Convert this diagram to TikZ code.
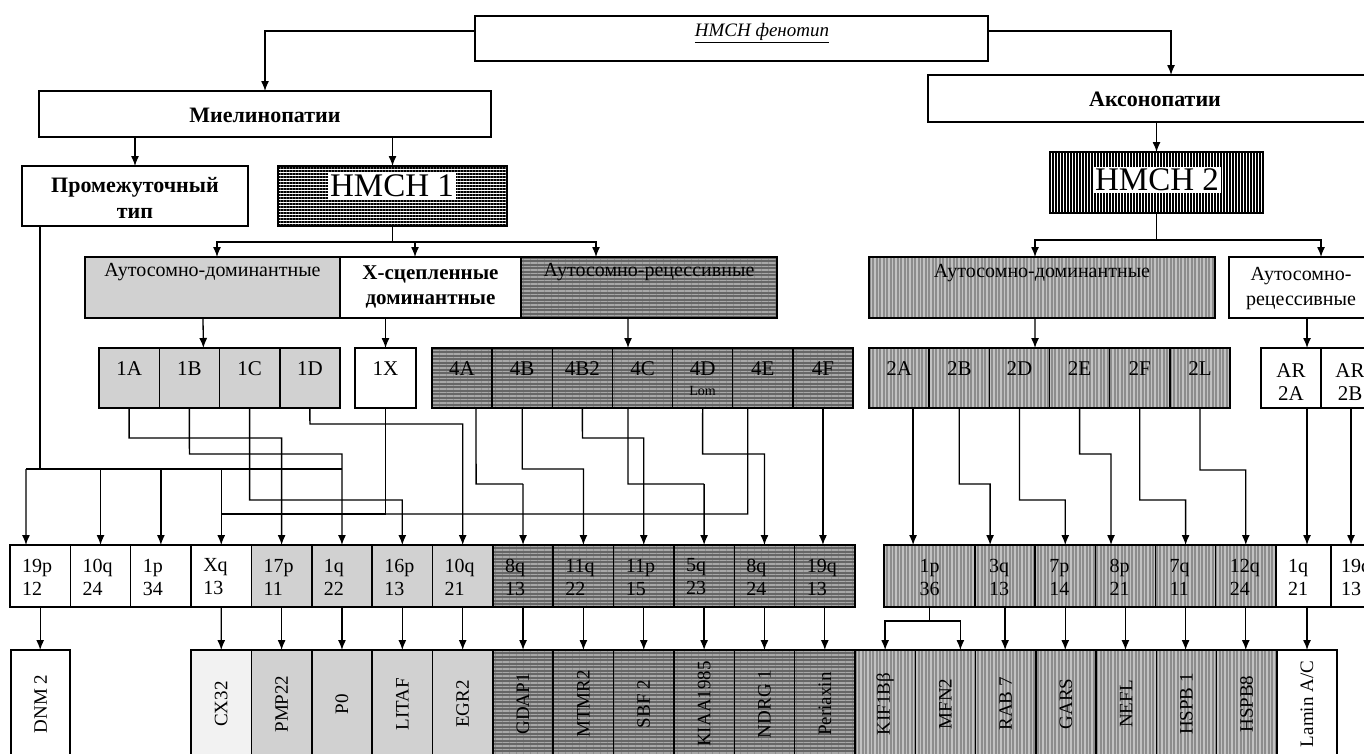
\documentclass[tikz,border=0pt]{standalone}
\usepackage{fontspec}
\setmainfont{Liberation Serif}
\usetikzlibrary{arrows.meta,patterns.meta}
\definecolor{lg}{gray}{0.82}
\definecolor{dg}{gray}{0.40}
\definecolor{dgl}{gray}{0.66}
\definecolor{mg}{gray}{0.55}
\definecolor{mgl}{gray}{0.76}
\definecolor{cxg}{gray}{0.95}
\newcommand\mybox[6]{\node[#2, minimum width={(#5)-(#3)}, minimum height={(#6)-(#4)}] (#1) at ({((#3)+(#5))/2},{((#4)+(#6))/2}) {};}
\tikzset{
 bx/.style={draw, line width=1.5pt, inner sep=0pt, outer sep=0pt},
 wht/.style={bx, fill=white},
 cxs/.style={bx, fill=cxg},
 lgs/.style={bx, fill=lg},
 dhs/.style={bx, preaction={fill=dg}, pattern={Lines[angle=0,distance=3.5pt,line width=1.2pt]}, pattern color=dgl},
 mvs/.style={bx, preaction={fill=mg}, pattern={Lines[angle=90,distance=3.5pt,line width=1.1pt]}, pattern color=mgl},
 h1s/.style={bx, preaction={fill=white}, pattern={Lines[angle=0,distance=3pt,line width=1.2pt]}, pattern color=black},
 h2s/.style={bx, preaction={fill=white}, pattern={Lines[angle=90,distance=3pt,line width=1.2pt]}, pattern color=black},
 ln/.style={line width=1.3pt},
 conn/.style={line width=1.3pt, -{Latex[length=10pt,width=8pt]}},
 lab/.style={font=\fontsize{20}{23}\selectfont, align=center, inner sep=0pt},
 clab/.style={font=\fontsize{21}{23}\selectfont, align=center, inner sep=0pt},
 chlab/.style={font=\fontsize{20}{23}\selectfont, align=left, anchor=west, inner sep=0pt},
 head/.style={font=\fontsize{22}{26}\selectfont\bfseries, align=center, inner sep=0pt},
 htext/.style={font=\fontsize{33}{36}\selectfont, fill=white, inner sep=2pt},
 glab/.style={font=\fontsize{19}{22}\selectfont, rotate=90, inner sep=0pt}
}
\begin{document}
\begin{tikzpicture}[x=1pt,y=-1pt]
\useasboundingbox (0,0) rectangle (1364,753);
\clip (0,0) rectangle (1364,753);
\fill[white] (0,0) rectangle (1364,753);

% ---------- top levels
\mybox{top}{wht}{475}{16}{988}{61}
\node[font=\fontsize{19}{22}\selectfont\itshape, inner sep=0pt] (ttop) at (762,33) {\underline{HMCH фенотип}};
\mybox{myel}{wht}{39}{91}{491}{137}
\node[head] (tmyel) at (265,115) {Миелинопатии};
\mybox{axon}{wht}{928}{75}{1382}{122}
\node[head] (taxon) at (1155,99) {Аксонопатии};
\mybox{inter}{wht}{22}{166}{248}{226}
\node[head] (tinter) at (135,198) {Промежуточный\\тип};
\mybox{h1}{h1s}{278}{166}{507}{226}
\node[htext] (th1) at (392,186) {HMCH 1};
\mybox{h2}{h2s}{1050}{152}{1263}{213}
\node[htext] (th2) at (1157,180) {HMCH 2};

\draw[conn] ([yshift=7.5pt]top.west) -| (myel.north);
\draw[conn] ([yshift=7.5pt]top.east) -| ([xshift=16pt]axon.north);
\draw[conn] (myel.south -| inter.north) -- (inter.north);
\draw[conn] (myel.south -| h1.north) -- (h1.north);
\draw[conn] (axon.south -| h2.north) -- (h2.north);

% ---------- second row
\mybox{ad1}{lgs}{85}{257}{340}{318}
\node[lab] (tad1) at (212.5,272) {Аутосомно-доминантные};
\mybox{xl}{wht}{340}{257}{521}{318}
\node[head, font=\fontsize{21}{25}\selectfont\bfseries] (txl) at (430.5,287) {X-сцепленные\\доминантные};
\mybox{ar1}{dhs}{521}{257}{777}{318}
\node[lab] (tar1) at (649,272) {Аутосомно-рецессивные};
\mybox{ad2}{mvs}{869}{257}{1215}{318}
\node[lab] (tad2) at (1042,273) {Аутосомно-доминантные};
\mybox{ar2}{wht}{1229}{257}{1380}{318}
\node[lab, font=\fontsize{20}{25}\selectfont] (tar2) at (1301,289) {Аутосомно-\\рецессивные};

\coordinate (j1) at (392.5,242);
\draw[ln] (h1.south) -- (j1);
\draw[conn] (j1) -| ([xshift=4.5pt]ad1.north);
\draw[conn] (j1) -| ([xshift=-15.5pt]xl.north);
\draw[conn] (j1) -| ([xshift=-53pt]ar1.north);
\coordinate (j2) at (1156.5,240);
\draw[ln] (h2.south) -- (j2);
\draw[conn] (j2) -| ([xshift=-7pt]ad2.north);
\draw[conn] (j2) -| ([xshift=16.5pt]ar2.north);

% ---------- third row
\foreach \n [count=\i from 0] in {1A,1B,1C,1D} {
  \pgfmathsetmacro\xa{99+60.25*\i}\pgfmathsetmacro\xb{99+60.25*(\i+1)}
  \mybox{c\n}{lgs}{\xa}{348}{\xb}{408}
  \node[clab] (t\n) at ({(\xa+\xb)/2},369) {\n};
}
\mybox{c1X}{wht}{355}{348}{416}{408}
\node[clab] (t1X) at (385.5,369) {1X};
\foreach \n [count=\i from 0] in {4A,4B,4B2,4C,4D,4E,4F} {
  \pgfmathsetmacro\xa{432+60.143*\i}\pgfmathsetmacro\xb{432+60.143*(\i+1)}
  \mybox{c\n}{dhs}{\xa}{348}{\xb}{408}
  \node[clab] (t\n) at ({(\xa+\xb)/2},369) {\n};
}
\node[font=\fontsize{14}{16}\selectfont, inner sep=0pt] (tLom) at (702.6,391) {Lom};
\foreach \n [count=\i from 0] in {2A,2B,2D,2E,2F,2L} {
  \pgfmathsetmacro\xa{869+60.167*\i}\pgfmathsetmacro\xb{869+60.167*(\i+1)}
  \mybox{c\n}{mvs}{\xa}{348}{\xb}{408}
  \node[clab] (t\n) at ({(\xa+\xb)/2},369) {\n};
}
\mybox{cARa}{wht}{1261}{348}{1321}{408}
\node[clab] (tARa) at (1291,382) {AR\\2A};
\mybox{cARb}{wht}{1321}{348}{1381}{408}
\node[clab] (tARb) at (1350,382) {AR\\2B};

\draw[conn] ([xshift=-9.5pt]ad1.south) -- ([xshift=14pt]c1B.north);
\draw[conn] ([xshift=-45pt]xl.south) -- (c1X.north);
\draw[conn] ([xshift=-21pt]ar1.south) -- ([xshift=-14.5pt]c4C.north);
\draw[conn] ([xshift=-7pt]ad2.south) -- ([xshift=15.6pt]c2D.north);
\draw[conn] ([xshift=2.5pt]ar2.south) -- ([xshift=16pt]cARa.north);

% ---------- chromosome row
\foreach \t [count=\i from 0] in {{19p\\12},{10q\\24},{1p\\34},{Xq\\13}} {
  \pgfmathsetmacro\xa{10+60.357*\i}\pgfmathsetmacro\xb{10+60.357*(\i+1)}
  \mybox{ch\i}{wht}{\xa}{545}{\xb}{607}
  \node[chlab] (tch\i) at ({\xa+12},577) {\t};
}
\foreach \t [count=\i from 4] in {{17p\\11},{1q\\22},{16p\\13},{10q\\21}} {
  \pgfmathsetmacro\xa{10+60.357*\i}\pgfmathsetmacro\xb{10+60.357*(\i+1)}
  \mybox{ch\i}{lgs}{\xa}{545}{\xb}{607}
  \node[chlab] (tch\i) at ({\xa+12},577) {\t};
}
\foreach \t [count=\i from 8] in {{8q\\13},{11q\\22},{11p\\15},{5q\\23},{8q\\24},{19q\\13}} {
  \pgfmathsetmacro\xa{10+60.357*\i}\pgfmathsetmacro\xb{10+60.357*(\i+1)}
  \mybox{ch\i}{dhs}{\xa}{545}{\xb}{607}
  \node[chlab] (tch\i) at ({\xa+12},577) {\t};
}
\mybox{cr1}{mvs}{884}{545}{975}{607}
\node[lab, align=left] (tcr1) at (929.5,577) {1p\\36};
\foreach \t [count=\i from 2] in {{3q\\13},{7p\\14},{8p\\21},{7q\\11},{12q\\24}} {
  \pgfmathsetmacro\xa{975+60.167*(\i-2)}\pgfmathsetmacro\xb{975+60.167*(\i-1)}
  \mybox{cr\i}{mvs}{\xa}{545}{\xb}{607}
  \node[chlab] (tcr\i) at ({\xa+14},577) {\t};
}
\mybox{cr7}{wht}{1275.8}{545}{1331}{607}
\node[chlab] (tcr7) at (1288,577) {1q\\21};
\mybox{cr8}{wht}{1331}{545}{1392}{607}
\node[chlab] (tcr8) at (1341,577) {19q\\13};

% routes: intermediate type
\coordinate (pj) at (40,469);
\draw[ln] ([xshift=-95pt]inter.south) -- (pj);
\draw[ln] (26,469) -- (342,469);
\draw[conn] (26,469) -- ([xshift=-14.2pt]ch0.north);
\draw[conn] (ch1.north |- pj) -- (ch1.north);
\draw[conn] (ch2.north |- pj) -- (ch2.north);
\draw[conn] (ch3.north |- pj) -- (ch3.north);
% routes: HMCH1 types
\draw[conn] (c1A.south) -- (129.1,438) -- (281.6,438) -- (ch4.north);
\draw[conn] (c1B.south) -- (189.4,454) -- (342,454) -- (ch5.north);
\draw[conn] (c1C.south) -- (249.6,500) -- (402.3,500) -- (ch6.north);
\draw[conn] (c1D.south) -- (309.9,424) -- (462.7,424) -- (ch7.north);
\draw[ln] (c1X.south) -- (385.5,514) -- (221.25,514);
\draw[ln] ([xshift=14pt]c4A.south) -- (476.1,484) -- (523,484);
\draw[conn] (523,484) -- (ch8.north);
\draw[conn] (c4B.south) -- (522.2,469) -- (583.4,469) -- (ch9.north);
\draw[conn] (c4B2.south) -- (582.4,438) -- (643.75,438) -- (ch10.north);
\draw[ln] ([xshift=-14.5pt]c4C.south) -- (628,484) -- (704.1,484);
\draw[conn] (704.1,484) -- (ch11.north);
\draw[conn] (c4D.south) -- (702.6,454) -- (764.5,454) -- (ch12.north);
\draw[ln] ([xshift=-15pt]c4E.south) -- (747.8,514) -- (385.5,514);
\draw[conn] (c4F.south) -- (c4F.south |- ch13.north);
% routes: HMCH2 types
\coordinate (a2A) at ([xshift=14pt]c2A.south);
\draw[conn] (a2A) -- (a2A |- cr1.north);
\draw[conn] (c2B.south) -- (959.2,484) -- (990.1,484) -- ([xshift=-15pt]cr2.north);
\draw[conn] (c2D.south) -- (1019.4,500) -- (1065.3,500) -- (cr3.north);
\draw[conn] (c2E.south) -- (1079.6,454) -- (1111,454) -- ([xshift=-14.4pt]cr4.north);
\draw[conn] (c2F.south) -- (1139.8,500) -- (1185.6,500) -- (cr5.north);
\draw[conn] (c2L.south) -- (1199.9,470) -- (1245.8,470) -- (cr6.north);
\coordinate (aRa) at ([xshift=16pt]cARa.south);
\draw[conn] (aRa) -- (aRa |- cr7.north);
\draw[conn] (cARb.south) -- (cARb.south |- cr8.north);

% ---------- gene row
\mybox{gDNM}{wht}{11}{650}{70}{775}
\node[glab] (tgDNM) at (40.5,704) {DNM 2};
\mybox{g3}{cxs}{191.07}{650}{251.43}{775}
\node[glab] (tg3) at (221.25,704) {CX32};
\foreach \t [count=\i from 4] in {PMP22,P0,LITAF,EGR2} {
  \pgfmathsetmacro\xa{10+60.357*\i}\pgfmathsetmacro\xb{10+60.357*(\i+1)}
  \mybox{g\i}{lgs}{\xa}{650}{\xb}{775}
  \node[glab] (tg\i) at ({(\xa+\xb)/2},704) {\t};
}
\foreach \t [count=\i from 8] in {GDAP1,MTMR2,SBF 2,KIAA1985,NDRG 1,Periaxin} {
  \pgfmathsetmacro\xa{10+60.357*\i}\pgfmathsetmacro\xb{10+60.357*(\i+1)}
  \mybox{g\i}{dhs}{\xa}{650}{\xb}{775}
  \node[glab] (tg\i) at ({(\xa+\xb)/2},704) {\t};
}
\foreach \t [count=\i from 1] in {KIF1Bβ,MFN2,RAB 7,GARS,NEFL,HSPB 1,HSPB8} {
  \pgfmathsetmacro\xa{855+60.25*(\i-1)}\pgfmathsetmacro\xb{855+60.25*\i}
  \mybox{r\i}{mvs}{\xa}{650}{\xb}{775}
  \node[glab] (tr\i) at ({(\xa+\xb)/2},704) {\t};
}
\mybox{r8}{wht}{1276.75}{650}{1337}{775}
\node[glab] (tr8) at (1306.9,704) {Lamin A/C};

\draw[conn] (ch0.south) -- (ch0.south |- gDNM.north);
\foreach \i in {3,...,13} { \draw[conn] (ch\i.south) -- (g\i.north); }
\coordinate (sp) at (929.5,621);
\draw[ln] (cr1.south) -- (sp);
\draw[conn] (sp) -| (r1.north);
\draw[conn] (sp) -| ([xshift=15pt]r2.north);
\draw[conn] (cr2.south) -- (cr2.south |- r3.north);
\draw[conn] (cr3.south) -- (cr3.south |- r4.north);
\draw[conn] (cr4.south) -- (cr4.south |- r5.north);
\draw[conn] (cr5.south) -- (cr5.south |- r6.north);
\draw[conn] (cr6.south) -- (cr6.south |- r7.north);
\draw[conn] (aRa |- cr7.south) -- (aRa |- r8.north);
\end{tikzpicture}
\end{document}
